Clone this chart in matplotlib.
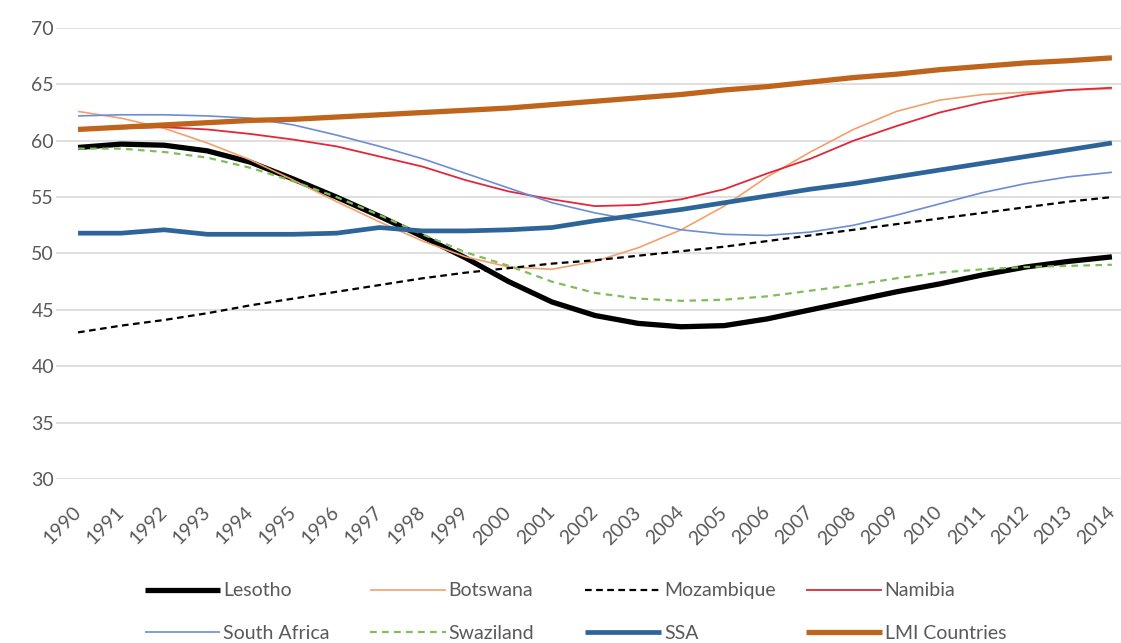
import matplotlib.pyplot as plt

plt.rcParams['font.family'] = ['Lato', 'DejaVu Sans']

# Life expectancy at birth, 1990-2014
years = list(range(1990, 2015))

lesotho = [59.4, 59.7, 59.6, 59.1, 58.1, 56.6, 55.0, 53.3, 51.5, 49.6, 47.5, 45.7, 44.5,
           43.8, 43.5, 43.6, 44.2, 45.0, 45.8, 46.6, 47.3, 48.1, 48.8, 49.3, 49.7]
botswana = [62.6, 62.0, 61.1, 59.8, 58.3, 56.5, 54.6, 52.8, 51.1, 49.7, 48.8, 48.6, 49.3,
            50.5, 52.1, 54.2, 56.8, 59.0, 61.0, 62.6, 63.6, 64.1, 64.3, 64.5, 64.6]
mozambique = [43.0, 43.6, 44.1, 44.7, 45.4, 46.0, 46.6, 47.2, 47.8, 48.3, 48.7, 49.1, 49.4,
              49.8, 50.2, 50.6, 51.1, 51.6, 52.1, 52.6, 53.1, 53.6, 54.1, 54.6, 55.0]
namibia = [61.0, 61.1, 61.2, 61.0, 60.6, 60.1, 59.5, 58.6, 57.7, 56.5, 55.5, 54.8, 54.2,
           54.3, 54.8, 55.7, 57.1, 58.4, 60.0, 61.3, 62.5, 63.4, 64.1, 64.5, 64.7]
south_africa = [62.2, 62.3, 62.3, 62.2, 62.0, 61.4, 60.5, 59.5, 58.4, 57.1, 55.8, 54.5, 53.6,
                52.9, 52.1, 51.7, 51.6, 51.9, 52.5, 53.4, 54.4, 55.4, 56.2, 56.8, 57.2]
swaziland = [59.3, 59.3, 59.0, 58.5, 57.6, 56.4, 55.0, 53.4, 51.7, 50.1, 48.9, 47.5, 46.5,
             46.0, 45.8, 45.9, 46.2, 46.7, 47.2, 47.8, 48.3, 48.6, 48.8, 48.9, 49.0]
ssa = [51.8, 51.8, 52.1, 51.7, 51.7, 51.7, 51.8, 52.3, 52.0, 52.0, 52.1, 52.3, 52.9,
       53.4, 53.9, 54.5, 55.1, 55.7, 56.2, 56.8, 57.4, 58.0, 58.6, 59.2, 59.8]
lmi = [61.0, 61.2, 61.4, 61.6, 61.8, 61.9, 62.1, 62.3, 62.5, 62.7, 62.9, 63.2, 63.5,
       63.8, 64.1, 64.5, 64.8, 65.2, 65.6, 65.9, 66.3, 66.6, 66.9, 67.1, 67.35]

series = [
    ('Lesotho', lesotho, dict(color='black', lw=3.8)),
    ('Botswana', botswana, dict(color='#F4A06C', lw=1.2)),
    ('Mozambique', mozambique, dict(color='black', lw=1.6, linestyle=(0, (3, 2)))),
    ('Namibia', namibia, dict(color='#E0283A', lw=1.3)),
    ('South Africa', south_africa, dict(color='#6C8DD5', lw=1.2)),
    ('Swaziland', swaziland, dict(color='#7DBE5A', lw=1.6, linestyle=(0, (3, 2.4)))),
    ('SSA', ssa, dict(color='#2E6599', lw=3.4)),
    ('LMI Countries', lmi, dict(color='#BF641C', lw=3.8)),
]

fig = plt.figure(figsize=(11.21, 6.43), dpi=100)
ax = fig.add_axes([0.0504, 0.2551, 0.9607, 0.7014])

handles = {}
for i, (name, vals, style) in enumerate(series):
    ln, = ax.plot(years, vals, solid_capstyle='butt', dash_capstyle='butt',
                  solid_joinstyle='round', zorder=3 + i, **style)
    handles[name] = ln

ax.set_xlim(1989.5, 2014.5)
ax.set_ylim(30, 70)
ax.set_yticks(range(30, 71, 5))
ax.set_xticks(years)
ax.set_xticklabels([str(y) for y in years], rotation=45, ha='right',
                   rotation_mode='anchor', va='center')
ax.tick_params(axis='both', length=0, labelsize=14, labelcolor='#595959')
ax.tick_params(axis='x', pad=22)
ax.tick_params(axis='y', pad=10)
for lbl in ax.get_yticklabels():
    lbl.set_horizontalalignment('center')

ax.grid(axis='y', color='#D9D9D9', lw=1.2)
ax.set_axisbelow(True)
for sp in ax.spines.values():
    sp.set_visible(False)

# legend: four columns of two entries, filled row by row
columns = [('Lesotho', 'South Africa'), ('Botswana', 'Swaziland'),
           ('Mozambique', 'SSA'), ('Namibia', 'LMI Countries')]
col_left = [0.129, 0.330, 0.522, 0.719]
for names, x0 in zip(columns, col_left):
    leg = fig.legend([handles[n] for n in names], names, loc='center left',
                     bbox_to_anchor=(x0, 0.048), frameon=False, fontsize=14,
                     labelcolor='#595959', handlelength=3.9, handletextpad=0.15,
                     labelspacing=1.3, borderpad=0, borderaxespad=0)

fig.savefig('out.png', dpi=100)
